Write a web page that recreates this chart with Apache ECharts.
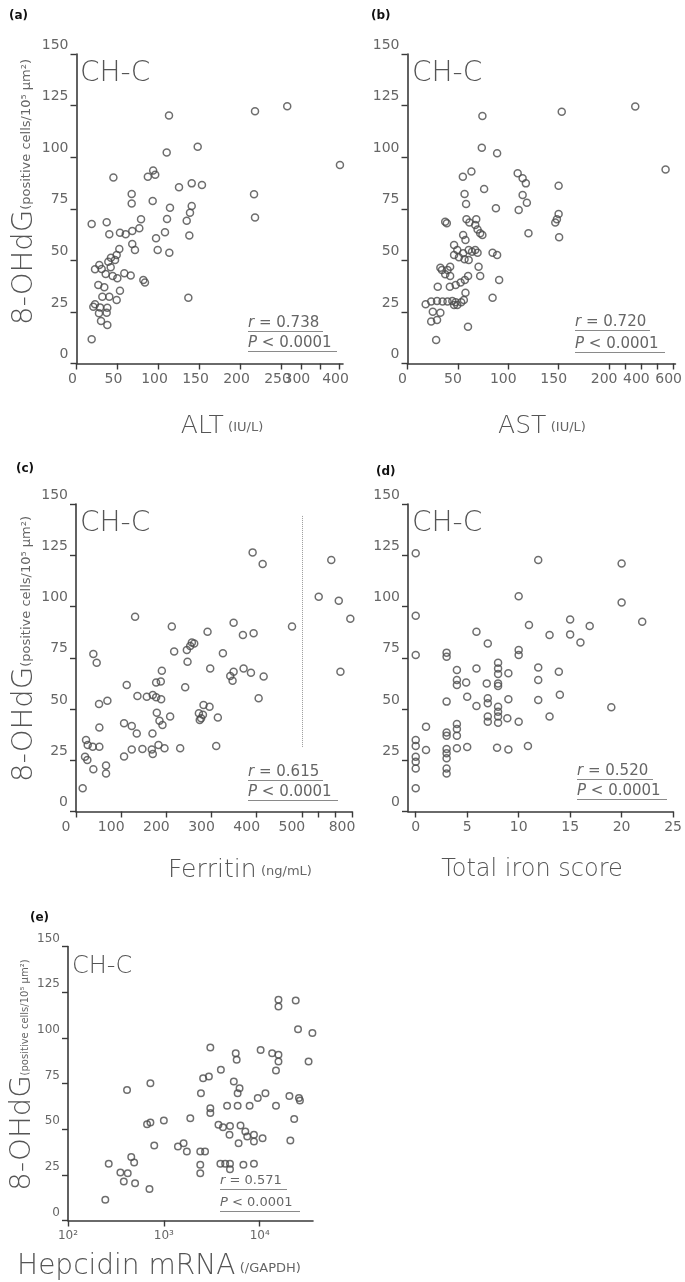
<!DOCTYPE html>
<html>
<head>
<meta charset="utf-8">
<script src="https://cdn.jsdelivr.net/npm/echarts@6/dist/echarts.min.js"></script>
<style>
html, body { margin: 0; padding: 0; background: #fff; }
#chart { width: 685px; height: 1282px; }
</style>
</head>
<body>
<div id="chart"></div>
<script>
// [x, 8-OHdG] pairs
var altData = [[18.5,11.7],[18.5,67.6],[36.8,68.4],[45,90.2],[87,90.5],[93.5,93.5],[96,91.5],[112.8,120.2],[110,102.3],[147.8,105],[217.7,122.3],[264.8,124.7],[401,96.2],[216.5,82],[217.7,70.8],[67.3,82.2],[67.3,77.6],[92.9,78.8],[125,85.4],[140.5,87.3],[153,86.5],[114,75.5],[140.5,76.3],[138.4,73.1],[134.4,69.2],[110.4,70],[78.7,69.9],[76.6,65.5],[40,62.6],[53,63.4],[60,62.6],[68,64.2],[137.6,62],[107.9,63.6],[97,60.7],[99,55],[113.2,53.7],[68,57.9],[71.3,55],[52.2,55.5],[42,51.3],[47,50.2],[49,52.6],[38.8,49.3],[27.8,47.7],[22.6,45.7],[30.7,45.8],[41.7,46.6],[35.6,43.4],[44.1,42.4],[49.8,41.3],[58.3,43.7],[66.1,42.6],[81.5,40.5],[83.5,39.2],[26.6,38],[33.9,36.9],[53,35.3],[40,32.4],[31.5,32.4],[49,30.8],[22.6,28.7],[20.5,27.5],[28.7,27.2],[37.6,27],[27.4,24.3],[36.8,24.6],[29.9,20.6],[37.6,18.7],[136.4,31.9]];

var astData = [[74.3,120],[153,122],[362,124.5],[550,94],[73.7,104.6],[88.9,101.9],[54.9,90.5],[63.4,93],[76,84.6],[87.7,75.2],[110.3,74.4],[109.3,92.2],[114.2,89.8],[117.4,87.3],[114.2,81.7],[118.4,77.9],[120,63.1],[149.9,86.2],[149.9,72.5],[148.2,69.9],[146.6,68.3],[150.4,61.2],[84.4,53.7],[88.9,52.6],[90.9,40.5],[84.4,31.9],[60,17.8],[28.4,11.4],[56.6,82.2],[58.1,77.3],[37.4,68.7],[39,68],[58.5,69.9],[61.4,68.3],[68.2,69.9],[67.2,67.1],[69.5,65],[72.1,63.1],[74.3,62.3],[55.2,62.3],[57.5,59.9],[46.2,57.4],[49.4,55],[46.2,52.6],[51,51.5],[55.2,53.4],[60.7,55],[64,54.2],[67.2,55],[69.5,53.7],[56.6,50.5],[60.7,50.2],[70.5,46.9],[72.1,42.4],[32.6,46.4],[34.2,45.3],[39.7,45.3],[42.3,46.9],[37.4,43.2],[42.3,42.4],[30,37.2],[42,37.2],[47.8,38],[52.7,39.2],[56.9,40.5],[60.1,42.4],[57.5,34.3],[18,28.7],[23.5,30],[29.3,30.3],[34.8,30],[39.7,30],[44.5,30.3],[47.8,29.7],[49.4,28.4],[46.2,28.4],[55.9,30.8],[53.3,29.7],[25.1,25.1],[32.6,24.6],[23.5,20.3],[29.3,21.1]];

var ferritinData = [[14.8,11.3],[20,26.7],[25.1,25.1],[22.2,34.9],[25.9,32.4],[37,31.6],[51.7,31.6],[38.4,20.6],[66.5,22.4],[66.5,18.5],[51.7,41],[51,52.4],[69.5,54],[38.4,76.8],[45.8,72.6],[130.8,95],[112.3,61.7],[106.4,43],[123.4,41.7],[134.5,38.1],[136,56.3],[106.4,26.8],[123.4,30.3],[147,30.5],[167.8,30.3],[170,28],[182.6,32.4],[156.7,56],[170,56.8],[177.4,55.7],[169.3,38.1],[191.4,42.2],[178.9,48.2],[184.8,44.3],[188.5,54.7],[177.4,62.9],[187.7,63.4],[190,68.7],[208.4,46.3],[195.9,30.8],[230.6,30.8],[212.1,90.2],[217.3,78],[241.7,60.6],[246.9,73.1],[245.4,78.8],[252.8,80.7],[256.5,82.4],[261.7,82],[291.2,87.7],[297.1,69.8],[272,47.9],[277,45.5],[281,47.2],[274,44.6],[282.3,52],[295.6,51.1],[314,45.8],[310.4,32],[325.2,77.2],[348.9,92.1],[341.5,66.1],[348.9,68.2],[346.6,63.8],[369.5,86.1],[393.2,86.9],[371,69.8],[387.3,67.7],[415.4,65.8],[391,126.4],[413.2,120.7],[404.3,55.2],[478.2,90.2],[600.8,104.8],[676,122.7],[720.8,102.8],[730.8,68.2],[790,94]];

var ironData = [[0,126],[0,95.5],[0,76.3],[0,34.9],[0,32],[0,26.7],[0,24.3],[0,21],[0,11.3],[1,41.4],[1,30],[3,77.5],[3,75.5],[3,53.6],[3,38.5],[3,37],[3,30.5],[3,28.4],[3,26],[3,21],[3,18.5],[4,69],[4,64.1],[4,61.7],[4.9,62.9],[5,56],[4,42.7],[4,40.2],[4,37],[4,30.8],[5,31.5],[5.9,87.7],[5.9,69.8],[5.9,51.5],[7,82],[6.9,62.5],[7,55.2],[7,52.8],[7,46.3],[7,43.8],[8,72.6],[8,69.8],[8,67.1],[8,62.5],[8,61.2],[8,51.1],[8,48.7],[8,46.3],[8,43.3],[7.9,31.1],[9,30.3],[9,67.4],[9,54.7],[8.9,45.5],[10,43.8],[10,105],[10,78.8],[10,76.3],[11,91],[10.9,32],[11.9,122.7],[11.9,70.3],[11.9,64.1],[11.9,54.4],[13,86.1],[13,46.3],[13.9,68.2],[14,56.9],[15,93.7],[15,86.4],[16,82.4],[16.9,90.5],[19,50.8],[20,121],[20,102],[22,92.6]];

var hepcidinData = [[245,11.3],[266,31],[352,26.3],[420,25.9],[382,21.4],[457,34.7],[490,31.8],[501,20.4],[413,71.5],[708,17.2],[724,75.2],[668,52.7],[724,53.6],[794,41],[1000,54.7],[1403,40.5],[1607,42.3],[1738,37.8],[1888,56],[2399,37.8],[2692,37.8],[2399,30.5],[2399,25.9],[2438,69.7],[2570,77.9],[2951,78.8],[3055,94.7],[3055,61.5],[3055,58.8],[3936,82.5],[3715,52.4],[4140,51.1],[4898,51.8],[4571,62.8],[4842,46.9],[3890,31],[4365,31],[4898,31],[4898,28.1],[5370,76.1],[5623,91.6],[5754,88],[5888,62.8],[5888,69.7],[6166,72.4],[6026,42.3],[6310,52],[7079,48.7],[7413,46],[7852,62.8],[6761,30.5],[8710,31],[8710,46.9],[8710,43.2],[9550,67],[11480,69.7],[10230,93.4],[10720,45],[13490,91.6],[15700,90.7],[15700,87],[14790,82.1],[14790,62.8],[15700,120.8],[15700,117.2],[23770,120.4],[25120,104.7],[35480,102.6],[32360,87],[20420,68.2],[25700,67],[26300,65.7],[22910,55.5],[20890,43.8]];

var altTicks = [0, 50, 100, 150, 200, 250, 300, 350, 400];
var altLabels = [0, 50, 100, 150, 200, 250, 300, 400];
var astTicks = [0, 50, 100, 150, 200, 300, 400, 500, 600];
var astLabels = [0, 50, 100, 150, 200, 400, 600];
var ferritinTicks = [0, 100, 200, 300, 400, 500, 600, 700, 800];
var ferritinLabels = [0, 100, 200, 300, 400, 500, 800];
var ironTicks = [0, 5, 10, 15, 20, 25];
var hepcidinTicks = [100, 1000, 10000];

var rValues = ['0.738', '0.720', '0.615', '0.520', '0.571'];
var pText = '0.0001';

var FONT = "'DejaVu Sans', 'Liberation Sans', sans-serif";

// the x axes of a-c are drawn on two linear pieces, the second one squeezed
function broken(at, ratio) {
  return {
    fwd: function (v) { return v <= at ? v : at + (v - at) * ratio; },
    inv: function (t) { return t <= at ? t : at + (t - at) / ratio; }
  };
}
var same = { fwd: function (v) { return v; }, inv: function (v) { return v; } };

var panels = [
  { data: altData, sc: broken(250, 0.472), ticks: altTicks, labels: altLabels, min: 0, max: 325, pad: 8,
    grid: { left: 76.5, top: 54, width: 266.5, height: 309.5 } },
  { data: astData, sc: broken(200, 0.16), ticks: astTicks, labels: astLabels, min: 0, max: 265.8, pad: 10,
    grid: { left: 407.5, top: 54, width: 273.5, height: 309.5 } },
  { data: ferritinData, sc: broken(500, 0.37), ticks: ferritinTicks, labels: ferritinLabels, min: 0, max: 611, pad: 20,
    grid: { left: 76, top: 504, width: 276, height: 307.5 } },
  { data: ironData, sc: same, ticks: ironTicks, labels: ironTicks, min: -0.75, max: 25, pad: 0,
    grid: { left: 408, top: 504, width: 273.5, height: 307.5 } },
  { data: hepcidinData, log: true, sc: same, ticks: hepcidinTicks, labels: hepcidinTicks, min: 100, max: 36000, pad: 0,
    grid: { left: 68, top: 946.5, width: 245, height: 274 } }
];

var sup = { 2: '\u00b2', 3: '\u00b3', 4: '\u2074' };

var grids = [], xAxes = [], yAxes = [], series = [];
panels.forEach(function (p, i) {
  grids.push(p.grid);
  xAxes.push({
    gridIndex: i,
    type: p.log ? 'log' : 'value',
    logBase: 10,
    min: p.min,
    max: p.max,
    axisLine: { onZero: false, lineStyle: { color: '#3a3a3a', width: 1.6 } },
    axisTick: { show: true, length: 6, customValues: p.ticks.map(p.sc.fwd),
      lineStyle: { color: '#3a3a3a', width: 1.4 } },
    axisLabel: {
      customValues: p.labels.map(p.sc.fwd),
      margin: 9,
      fontFamily: FONT, fontSize: p.log ? 12 : 14, color: '#666',
      padding: [0, p.pad, 0, 0],
      formatter: function (v) {
        if (p.log) return '10' + sup[Math.round(Math.log10(v))];
        return String(Math.round(p.sc.inv(v)));
      }
    },
    splitLine: { show: false }
  });
  yAxes.push({
    gridIndex: i,
    type: 'value',
    min: 0, max: 150, interval: 25,
    axisLine: { show: true, onZero: false, lineStyle: { color: '#3a3a3a', width: 1.6 } },
    axisTick: { show: true, length: 6, lineStyle: { color: '#3a3a3a', width: 1.4 } },
    axisLabel: { margin: 8, verticalAlign: 'bottom', padding: [0, 0, 2, 0],
      fontFamily: FONT, fontSize: i === 4 ? 12 : 14, color: '#666' },
    splitLine: { show: false }
  });
  var s = {
    type: 'scatter',
    xAxisIndex: i, yAxisIndex: i,
    symbol: 'circle',
    symbolSize: i === 4 ? 6.5 : 7,
    itemStyle: { color: 'rgba(0,0,0,0)', borderColor: '#4a4a4a', borderWidth: 1.5 },
    data: p.data.map(function (d) { return [p.sc.fwd(d[0]), d[1]]; })
  };
  if (i === 2) {
    s.markLine = {
      silent: true, symbol: 'none', label: { show: false },
      lineStyle: { type: 'dotted', color: '#9a9a9a', width: 1 },
      data: [[{ coord: [500, 31.5] }, { coord: [500, 144.6] }]]
    };
  }
  series.push(s);
});

function txt(x, y, text, rich, extra) {
  var el = { type: 'text', x: x, y: y, silent: true,
    style: { text: text, rich: rich || {}, fill: '#555', font: '14px ' + FONT, align: 'left', verticalAlign: 'middle' } };
  for (var k in (extra || {})) el.style[k] = extra[k];
  return el;
}
function uline(x1, x2, y) {
  return { type: 'line', silent: true, shape: { x1: x1, y1: y, x2: x2, y2: y },
    style: { stroke: '#8a8a8a', lineWidth: 1 } };
}

var graphic = [];
// panel letters
[['(a)', 9, 16], ['(b)', 371, 16], ['(c)', 16, 469], ['(d)', 376, 472], ['(e)', 30, 918]].forEach(function (l) {
  graphic.push(txt(l[1], l[2], l[0], null, { font: 'bold 12px ' + FONT, fill: '#111' }));
});
// CH-C tags
[[80, 74, 28], [412, 74, 28], [80, 524, 28], [412, 524, 28], [72, 967, 24]].forEach(function (c) {
  graphic.push(txt(c[0], c[1], 'CH-C', null, { font: '200 ' + c[2] + 'px ' + FONT, fill: '#555' }));
});
// r and P with underlines
var statPos = [[248, 323, 75, 343, 89, 15], [575, 322, 75, 344, 90, 15], [248, 772, 75, 792, 90, 15],
  [577, 771, 76, 791, 90, 15], [220, 1181, 67, 1203, 80, 13]];
statPos.forEach(function (s, i) {
  var ital = { i: { fontStyle: 'italic', fontSize: s[5], fontFamily: FONT, fill: '#666' } };
  graphic.push(txt(s[0], s[1], '{i|r} = ' + rValues[i], ital, { font: s[5] + 'px ' + FONT, fill: '#666' }));
  graphic.push(uline(s[0], s[0] + s[2], s[1] + 8.5));
  graphic.push(txt(s[0], s[3], '{i|P} < ' + pText, ital, { font: s[5] + 'px ' + FONT, fill: '#666' }));
  graphic.push(uline(s[0], s[0] + s[4], s[3] + 8.5));
});
// x axis titles
var big = function (n) { return { fontSize: n, fontFamily: FONT, fontWeight: 200, fill: '#555' }; };
var small = { fontSize: 13, fontFamily: FONT, fill: '#666', padding: [4, 0, 0, 0] };
[[222, 426, '{b|ALT} {s|(IU/L)}', 25], [542, 426, '{b|AST} {s|(IU/L)}', 25],
 [240, 870, '{b|Ferritin} {s|(ng/mL)}', 25], [532, 870, '{b|Total iron score}', 24],
 [159, 1267, '{b|Hepcidin mRNA} {s|(/GAPDH)}', 28]].forEach(function (t) {
  graphic.push(txt(t[0], t[1], t[2], { b: big(t[3]), s: small }, { align: 'center' }));
});
// rotated y titles on the left column: [x, y, size of the small part]
[[24, 192, 13], [24, 649, 13], [22, 1075, 10]].forEach(function (t) {
  var el = txt(t[0], t[1], '{b|8-OHdG}{s|(positive cells/10\u2075 \u03bcm\u00b2)}',
    { b: big(29), s: { fontSize: t[2], fontFamily: FONT, fill: '#666', padding: [6, 0, 0, 0] } }, { align: 'center' });
  el.rotation = Math.PI / 2;
  graphic.push(el);
});

var chart = echarts.init(document.getElementById('chart'));
chart.setOption({
  animation: false,
  backgroundColor: '#fff',
  grid: grids,
  xAxis: xAxes,
  yAxis: yAxes,
  series: series,
  graphic: graphic
});
</script>
</body>
</html>
